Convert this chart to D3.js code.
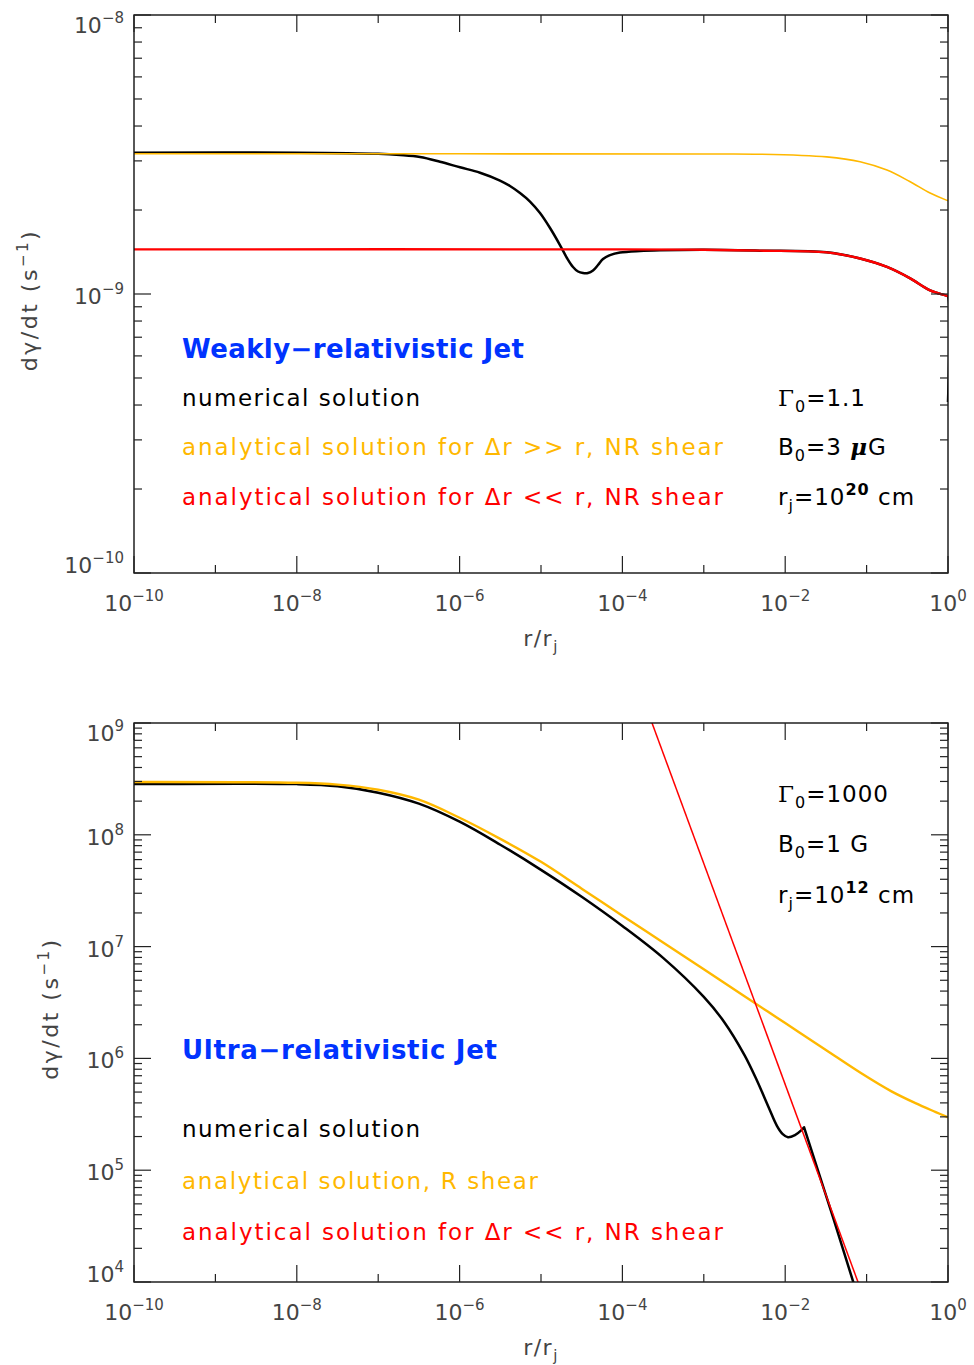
<!DOCTYPE html>
<html><head><meta charset="utf-8">
<script src="https://cdn.jsdelivr.net/npm/d3@7"></script>
<style>body{margin:0;background:#fff} svg{display:block}</style>
</head><body>
<svg id="c" width="974" height="1365"></svg>
<script>
// ---------- DATA ----------
// x axis: log10(r/rj) tick exponents
const xMajorExp = [-10, -8, -6, -4, -2, 0];
const xMinorExp = [-9, -7, -5, -3, -1];
// y tick exponents
const topYExp = [-8, -9, -10];
const botYExp = [9, 8, 7, 6, 5, 4];

// Top panel (weakly-relativistic jet): log10(r/rj) and dγ/dt (s^-1)
const topNumLogR = [-10, -8, -7.0, -6.732, -6.486, -6.241, -5.995, -5.749, -5.504, -5.381, -5.258, -5.135, -5.012, -4.889, -4.767, -4.681, -4.607, -4.545, -4.484, -4.423, -4.361, -4.300, -4.238, -4.152, -4.029, -3.784, -3.538, -3.0, -2.31, -1.49, -1.08, -0.75, -0.47, -0.22, -0.02, -0.001, 0];
const topNumVal  = [3.21e-9, 3.21e-9, 3.18e-9, 3.148e-9, 3.097e-9, 2.979e-9, 2.845e-9, 2.721e-9, 2.551e-9, 2.438e-9, 2.301e-9, 2.145e-9, 1.951e-9, 1.724e-9, 1.498e-9, 1.346e-9, 1.250e-9, 1.204e-9, 1.189e-9, 1.189e-9, 1.214e-9, 1.270e-9, 1.335e-9, 1.379e-9, 1.408e-9, 1.426e-9, 1.434e-9, 1.44e-9, 1.43e-9, 1.41e-9, 1.34e-9, 1.25e-9, 1.14e-9, 1.03e-9, 0.986e-9, 0.98e-9, 4.1e-10];
const topBigLogR = [-10, -6, -3, -2.31, -1.49, -1.08, -0.75, -0.47, -0.22, -0.02, 0];
const topBigVal  = [3.18e-9, 3.18e-9, 3.175e-9, 3.17e-9, 3.10e-9, 2.98e-9, 2.78e-9, 2.53e-9, 2.30e-9, 2.17e-9, 2.16e-9];
const topSmallLogR = [-10, -4, -3, -2.31, -1.49, -1.08, -0.75, -0.47, -0.22, -0.02, 0];
const topSmallVal  = [1.445e-9, 1.445e-9, 1.44e-9, 1.43e-9, 1.41e-9, 1.34e-9, 1.25e-9, 1.14e-9, 1.03e-9, 0.986e-9, 0.98e-9];

// Bottom panel (ultra-relativistic jet)
const botNumLogR = [-10, -8, -7.5, -7, -6.5, -6, -5.5, -5, -4.5, -4, -3.5, -3, -2.75, -2.5, -2.35, -2.2, -2.1, -2.03, -1.966, -1.88, -1.8, -1.768, -1.413, -1.171, -0.96];
const botNumVal  = [2.84e8, 2.84e8, 2.72e8, 2.38e8, 1.90e8, 1.31e8, 8.15e7, 4.86e7, 2.79e7, 1.53e7, 7.93e6, 3.55e6, 2.12e6, 1.07e6, 6.4e5, 3.6e5, 2.48e5, 2.10e5, 1.97e5, 2.06e5, 2.28e5, 2.42e5, 3.8e4, 1.04e4, 3.44e3];
const botNumPeak = 21; // index of the sharp peak after which the curve is straight
const botRLogR = [-10, -8, -7.5, -7, -6.5, -6, -5.5, -5, -4.5, -4, -3.5, -3, -2.5, -2, -1.5, -1.07, -0.7, -0.4, -0.15, 0];
const botRVal  = [2.97e8, 2.92e8, 2.81e8, 2.53e8, 2.06e8, 1.42e8, 9.2e7, 5.73e7, 3.30e7, 1.89e7, 1.09e7, 6.27e6, 3.59e6, 2.07e6, 1.19e6, 7.4e5, 5.1e5, 3.98e5, 3.31e5, 2.97e5];
const botSmallLogR = [-4, -1];
const botSmallVal  = [5.24e9, 6.18e3];

// Text
const topTitle = "Weakly\u2212relativistic Jet";
const botTitle = "Ultra\u2212relativistic Jet";
const topLegend = ["numerical solution", "analytical solution for \u0394r >> r, NR shear", "analytical solution for \u0394r << r, NR shear"];
const botLegend = ["numerical solution", "analytical solution, R shear", "analytical solution for \u0394r << r, NR shear"];
const topParams = {gamma: "1.1", B: "3 ", Bunit: "\u03bc", Bunit2: "G", rexp: "20"};
const botParams = {gamma: "1000", B: "1 ", Bunit: "", Bunit2: "G", rexp: "12"};

// ---------- DRAW ----------
const BLACK = "#000", ORANGE = "#ffb800", RED = "#ff0000", BLUE = "#0033ff";
const FONT = "DejaVu Sans, sans-serif";
const LABEL = "#444";
const svg = d3.select("#c");

function drawPanel(cfg) {
  const x = d3.scaleLog().domain([1e-10, 1]).range([cfg.x0, cfg.x1]);
  const y = d3.scaleLog().domain(cfg.yDomain).range([cfg.y1, cfg.y0]);
  const g = svg.append("g");
  const id = "clip" + cfg.name;
  svg.append("clipPath").attr("id", id).append("rect")
    .attr("x", cfg.x0).attr("y", cfg.y0).attr("width", cfg.x1 - cfg.x0).attr("height", cfg.y1 - cfg.y0);

  // series
  const line = d3.line().x(d => x(d[0])).y(d => y(d[1])).curve(d3.curveCatmullRom.alpha(0.5));
  const lineLin = d3.line().x(d => x(d[0])).y(d => y(d[1]));
  cfg.series.forEach(s => {
    const pts = s.lr.map((v, i) => [Math.pow(10, v), s.v[i]]);
    let d;
    if (s.linear) d = lineLin(pts);
    else if (s.breakAt != null) d = line(pts.slice(0, s.breakAt + 1)) + lineLin(pts.slice(s.breakAt)).replace(/^M/, "L");
    else d = line(pts);
    g.append("path").attr("clip-path", `url(#${id})`)
      .attr("d", d)
      .attr("fill", "none").attr("stroke", s.color).attr("stroke-width", s.w)
      .attr("stroke-linejoin", "round");
  });

  // frame
  g.append("rect").attr("x", cfg.x0).attr("y", cfg.y0)
    .attr("width", cfg.x1 - cfg.x0).attr("height", cfg.y1 - cfg.y0)
    .attr("fill", "none").attr("stroke", "#111").attr("stroke-width", 1.4);

  const tk = g.append("g").attr("stroke", "#222").attr("stroke-width", 1.2);
  const MAJ = 17, MIN = 8;
  // x ticks
  xMajorExp.forEach(e => {
    const px = x(Math.pow(10, e));
    tk.append("line").attr("x1", px).attr("x2", px).attr("y1", cfg.y1).attr("y2", cfg.y1 - MAJ);
    tk.append("line").attr("x1", px).attr("x2", px).attr("y1", cfg.y0).attr("y2", cfg.y0 + MAJ);
  });
  xMinorExp.forEach(e => {
    const px = x(Math.pow(10, e));
    tk.append("line").attr("x1", px).attr("x2", px).attr("y1", cfg.y1).attr("y2", cfg.y1 - MIN);
    tk.append("line").attr("x1", px).attr("x2", px).attr("y1", cfg.y0).attr("y2", cfg.y0 + MIN);
  });
  // y ticks
  const lo = Math.round(Math.log10(cfg.yDomain[0])), hi = Math.round(Math.log10(cfg.yDomain[1]));
  for (let k = lo; k <= hi; k++) {
    const py = y(Math.pow(10, k));
    tk.append("line").attr("x1", cfg.x0).attr("x2", cfg.x0 + MAJ).attr("y1", py).attr("y2", py);
    tk.append("line").attr("x1", cfg.x1).attr("x2", cfg.x1 - MAJ).attr("y1", py).attr("y2", py);
    if (k < hi) for (let m = 2; m <= 9; m++) {
      const pm = y(m * Math.pow(10, k));
      tk.append("line").attr("x1", cfg.x0).attr("x2", cfg.x0 + MIN).attr("y1", pm).attr("y2", pm);
      tk.append("line").attr("x1", cfg.x1).attr("x2", cfg.x1 - MIN).attr("y1", pm).attr("y2", pm);
    }
  }

  // tick labels
  function powLabel(exp, px, py, anchor) {
    const t = g.append("text").attr("x", px).attr("y", py).attr("text-anchor", anchor)
      .attr("font-family", FONT).attr("font-size", 22).attr("fill", LABEL);
    t.append("tspan").text("10");
    t.append("tspan").attr("dy", -10).attr("font-size", 15).text(exp < 0 ? "\u2212" + (-exp) : String(exp));
  }
  xMajorExp.forEach(e => powLabel(e, x(Math.pow(10, e)), cfg.y1 + 38, "middle"));
  cfg.yExp.forEach(e => {
    const py = y(Math.pow(10, e));
    const base = Math.min(Math.max(py + 10, cfg.y0 + 18), cfg.y1);
    powLabel(e, cfg.x0 - 10, base, "end");
  });

  // axis titles
  const xt = g.append("text").attr("x", (cfg.x0 + cfg.x1) / 2).attr("y", cfg.y1 + 73)
    .attr("text-anchor", "middle").attr("font-family", FONT).attr("font-size", 22).attr("fill", LABEL)
    .attr("letter-spacing", 1.5);
  xt.append("tspan").text("r/r");
  xt.append("tspan").attr("dy", 6).attr("font-size", 15).text("j");
  const yt = g.append("text").attr("transform", `translate(${cfg.ytx},${(cfg.y0 + cfg.y1) / 2 + 6}) rotate(-90)`)
    .attr("text-anchor", "middle").attr("font-family", FONT).attr("font-size", 22).attr("fill", LABEL)
    .attr("letter-spacing", 2.5);
  yt.append("tspan").text("d\u03b3/dt (s");
  yt.append("tspan").attr("dy", -9).attr("font-size", 15).text("\u22121");
  yt.append("tspan").attr("dy", 9).text(")");

  // legend
  g.append("text").attr("x", 182).attr("y", cfg.titleY).attr("font-family", FONT)
    .attr("font-size", 26).attr("font-weight", "bold").attr("fill", BLUE)
    .attr("textLength", cfg.titleLen).attr("lengthAdjust", "spacing").text(cfg.title);
  const cols = [BLACK, ORANGE, RED];
  cfg.legend.forEach((s, i) => {
    g.append("text").attr("x", 182).attr("y", cfg.legY[i]).attr("font-family", FONT)
      .attr("font-size", 23).attr("fill", cols[i])
      .attr("textLength", cfg.legLen[i]).attr("lengthAdjust", "spacing").text(s);
  });

  // parameters
  const p = cfg.params, px0 = 778;
  const t1 = g.append("text").attr("x", px0).attr("y", cfg.parY[0]).attr("font-family", FONT).attr("font-size", 23).attr("fill", BLACK).attr("letter-spacing", 1);
  t1.append("tspan").attr("font-family", "DejaVu Serif, serif").text("\u0393");
  t1.append("tspan").attr("dy", 6).attr("font-size", 16).text("0");
  t1.append("tspan").attr("dy", -6).text("=" + p.gamma);
  const t2 = g.append("text").attr("x", px0).attr("y", cfg.parY[1]).attr("font-family", FONT).attr("font-size", 23).attr("fill", BLACK).attr("letter-spacing", 1);
  t2.append("tspan").text("B");
  t2.append("tspan").attr("dy", 6).attr("font-size", 16).text("0");
  t2.append("tspan").attr("dy", -6).text("=" + p.B + " " );
  if (p.Bunit) t2.append("tspan").attr("font-family", "DejaVu Serif, serif").attr("font-style", "italic").attr("font-weight", "bold").text(p.Bunit);
  t2.append("tspan").text(p.Bunit2);
  const t3 = g.append("text").attr("x", px0).attr("y", cfg.parY[2]).attr("font-family", FONT).attr("font-size", 23).attr("fill", BLACK).attr("letter-spacing", 1);
  t3.append("tspan").text("r");
  t3.append("tspan").attr("dy", 6).attr("font-size", 16).text("j");
  t3.append("tspan").attr("dy", -6).text("=10");
  t3.append("tspan").attr("dy", -10).attr("font-size", 16).attr("font-weight", "bold").text(p.rexp);
  t3.append("tspan").attr("dy", 10).text("  cm");
}

drawPanel({
  name: "top", x0: 134, x1: 948, y0: 15, y1: 573, yDomain: [1e-10, 1e-8], yExp: topYExp, ytx: 37,
  series: [
    {lr: topNumLogR, v: topNumVal, color: BLACK, w: 2.5},
    {lr: topBigLogR, v: topBigVal, color: ORANGE, w: 1.6},
    {lr: topSmallLogR, v: topSmallVal, color: RED, w: 2.4}
  ],
  title: topTitle, titleY: 358, titleLen: 342,
  legend: topLegend, legY: [406, 455, 505], legLen: [238, 541, 541],
  params: topParams, parY: [406, 455, 505]
});
drawPanel({
  name: "bot", x0: 134, x1: 948, y0: 723, y1: 1282, yDomain: [1e4, 1e9], yExp: botYExp, ytx: 58,
  series: [
    {lr: botNumLogR, v: botNumVal, color: BLACK, w: 2.5, breakAt: botNumPeak},
    {lr: botRLogR, v: botRVal, color: ORANGE, w: 2.4},
    {lr: botSmallLogR, v: botSmallVal, color: RED, w: 1.5, linear: true}
  ],
  title: botTitle, titleY: 1059, titleLen: 315,
  legend: botLegend, legY: [1137, 1189, 1240], legLen: [238, 356, 541],
  params: botParams, parY: [802, 852, 903]
});
</script>
</body></html>
